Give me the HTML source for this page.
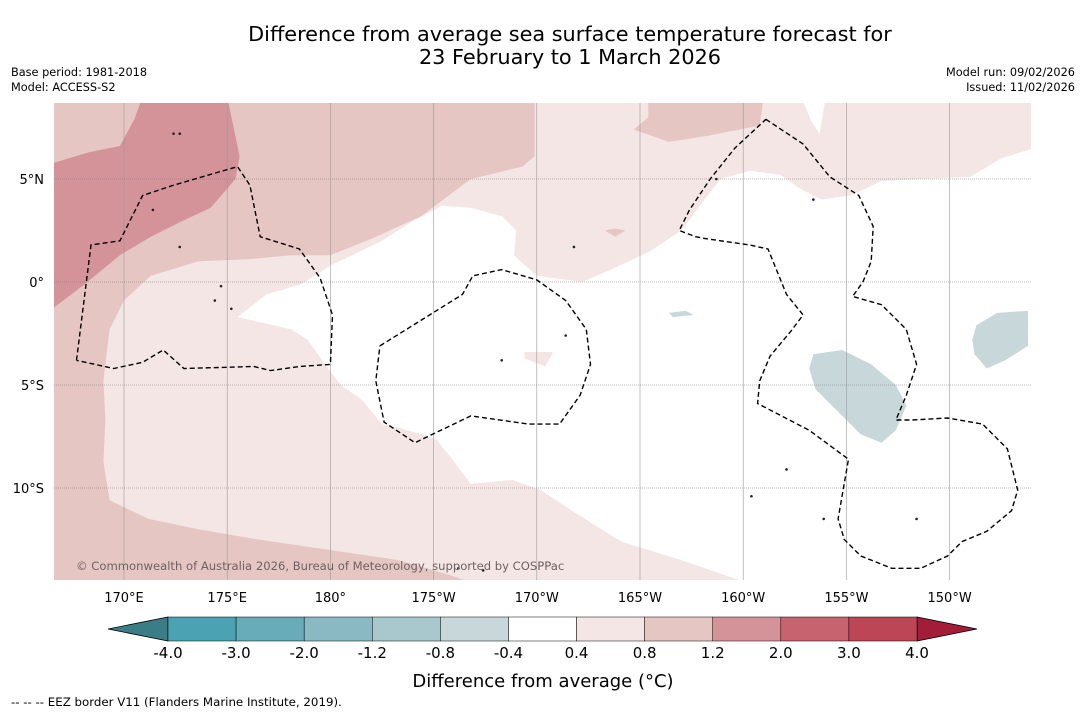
<!DOCTYPE html>
<html><head><meta charset="utf-8"><style>
body{margin:0;background:#fff;font-family:"Liberation Sans","DejaVu Sans",sans-serif;}
svg text{font-family:"DejaVu Sans","Liberation Sans",sans-serif;}
</style></head><body>
<svg id="c" width="1085" height="713" xmlns="http://www.w3.org/2000/svg">
<rect width="1085" height="713" fill="#fff"/>
<text x="570" y="41" text-anchor="middle" font-size="20.8">Difference from average sea surface temperature forecast for</text>
<text x="570" y="64" text-anchor="middle" font-size="20.8">23 February to 1 March 2026</text>
<text x="11" y="76" font-size="11.3">Base period: 1981-2018</text>
<text x="11" y="91" font-size="11.3">Model: ACCESS-S2</text>
<text x="1075" y="76" font-size="11.3" text-anchor="end">Model run: 09/02/2026</text>
<text x="1075" y="91" font-size="11.3" text-anchor="end">Issued: 11/02/2026</text>
<defs><clipPath id="mc"><rect x="54" y="103" width="977" height="477"/></clipPath></defs>
<g id="map" clip-path="url(#mc)"></g>
<g id="axes"></g>
<g id="cbar"></g>
<text x="543" y="687" text-anchor="middle" font-size="18">Difference from average (°C)</text>
<text x="11" y="706" font-size="11.8">--  --  -- EEZ border V11 (Flanders Marine Institute, 2019).</text>
</svg>
<script>
// Colorbar data
const levels=[-4.0,-3.0,-2.0,-1.2,-0.8,-0.4,0.4,0.8,1.2,2.0,3.0,4.0];
const levelColors=["#4aa2b2","#68abb9","#8ab8c3","#a9c8cd","#c8d8da","#ffffff","#f4e6e5","#e6c6c2","#d49399","#c6636f","#bd4656"];
const lonTicks=[170,175,180,185,190,195,200,205,210];
const lonLabels=["170°E","175°E","180°","175°W","170°W","165°W","160°W","155°W","150°W"];
const latTicks=[5,0,-5,-10];
const latLabels=["5°N","0°","5°S","10°S"];
// contour regions [lon(0-360), lat]
const bgColor="#f4e6e5";
const whiteZone=[[175.5,-1.7],[176.9,-0.6],[178.6,-0.1],[180,0.8],[182.5,2],[183.9,2.9],[185.4,3.7],[186.8,3.6],[188.3,3.2],[189,2.5],[188.9,1.3],[190,0.3],[192.2,0],[193.6,0.6],[195.5,1.5],[197,2.5],[197.9,3.7],[198.9,5],[200.3,5.4],[201.8,5.2],[202.8,4.5],[203.8,4],[205.2,4.2],[206.7,4.9],[208.6,5],[211,5.1],[212.5,6],[214.1,6.5],[214.1,-14.5],[199.9,-14.5],[197,-13.5],[194.1,-12.6],[191.7,-11.1],[190.2,-10.1],[188.8,-9.6],[186.8,-9.8],[185.9,-8.6],[185.1,-7.6],[183.4,-7.1],[182.5,-6.9],[181.5,-5.7],[180.5,-5],[179.6,-3.8],[178.9,-2.8],[178.1,-2.3]];
const midPink=[[166,9],[189.9,9],[189.9,6.1],[189.3,5.6],[186.8,5],[184.4,3.2],[182,2.1],[180,1.3],[178.1,1.3],[176,1.1],[173.6,1],[171.3,0.3],[170,-0.9],[169.3,-2.3],[169,-4.8],[169.1,-6.7],[169,-8.7],[169.3,-10.6],[171.2,-11.5],[173.6,-12],[176.5,-12.5],[179.9,-13],[183.3,-13.5],[185.7,-14.2],[186.6,-14.5],[166,-14.5]];
const midPink2=[[195.4,9],[201,9],[200.8,7.6],[198.3,7.1],[196.4,6.8],[194.7,7.4],[195.4,8]];
const darkPink=[[166,5.6],[168.3,6.3],[169.8,6.6],[170.5,7.9],[170.9,9],[175,9],[175.6,6.1],[175.4,5],[174.2,3.6],[172.7,2.9],[171.3,2.2],[169.8,1.3],[168.1,-0.1],[166,-1.7]];
const smallPink=[[[193.3,2.5],[193.8,2.6],[194.3,2.5],[193.8,2.2]],[[189.4,-3.4],[190.8,-3.4],[190.4,-4.1],[189.4,-3.7]]];
const whitePatch=[[202.8,9],[204,9],[203.7,7.2],[203.3,7.8]];
const bluePatches=[[[203.4,-3.5],[204.8,-3.3],[206.2,-4],[207.4,-5],[207.9,-6],[207.4,-7.2],[206.7,-7.8],[205.7,-7.4],[204.5,-6.2],[203.5,-5.2],[203.2,-4.2]],[[211.3,-2.1],[212.3,-1.5],[213.8,-1.4],[213.8,-3.1],[212.7,-3.8],[211.8,-4.2],[211.2,-3.5],[211.1,-2.8]],[[196.4,-1.5],[197.2,-1.4],[197.6,-1.6],[196.6,-1.7]]];
const eez=[
[[167.7,-3.8],[168.4,1.8],[169.8,2],[170.9,4.2],[172.4,4.7],[175.5,5.6],[176.1,4.7],[176.6,2.2],[178.5,1.6],[179.5,0.2],[180.1,-1.6],[180,-4],[178.5,-4.1],[177.1,-4.3],[176.3,-4.1],[172.9,-4.2],[171.9,-3.3],[170.9,-3.9],[169.5,-4.2],[167.7,-3.8]],
[[182.4,-3.1],[184.8,-1.6],[186.4,-0.6],[186.9,0.3],[188.3,0.6],[190,0.1],[191.4,-0.9],[192.4,-2.3],[192.6,-4],[192.1,-5.5],[191.1,-6.9],[189.6,-6.9],[186.8,-6.5],[184.1,-7.8],[182.6,-6.8],[182.2,-4.8],[182.4,-3.1]],
[[201.1,7.9],[202.9,6.7],[204.2,5.1],[205.6,4.2],[206.3,2.7],[206.2,1],[205.8,0],[205.3,-0.7],[206.7,-1.1],[207.9,-2.3],[208.4,-4],[207.9,-5.5],[207.4,-6.7],[208.2,-6.7],[209.9,-6.6],[211.6,-6.9],[212.8,-8.1],[213.3,-10.1],[213,-11.1],[211.8,-12.1],[210.6,-12.6],[209.9,-13.3],[208.6,-13.9],[207.2,-13.9],[205.7,-13.3],[204.9,-12.5],[204.6,-11.5],[205.1,-8.6],[203.2,-7.2],[200.7,-5.9],[200.8,-4.8],[201.3,-3.6],[202.3,-2.4],[202.9,-1.6],[202.1,-0.6],[201.2,1.6],[200.3,1.8],[198.2,2.1],[197.7,2.2],[196.9,2.5],[197.4,3.5],[198.4,5],[199.6,6.5],[201.1,7.9]]];
const islands=[[174.4,-0.9],[175.2,-1.3],[174.7,-0.2],[171.4,3.5],[172.7,1.7],[191.4,-2.6],[188.3,-3.8],[203.4,4],[203.9,-11.5],[208.4,-11.5],[186.2,-13.9],[187.4,-14],[172.7,7.2],[172.4,7.2],[202.1,-9.1],[191.8,1.7],[198.7,5],[200.4,-10.4]];

const X=lon=>124+(lon-170)*20.64, Y=lat=>282-lat*20.6;
const NS="http://www.w3.org/2000/svg";
function mk(parent,tag,attrs){const e=document.createElementNS(NS,tag);for(const k in attrs)e.setAttribute(k,attrs[k]);parent.appendChild(e);return e;}
const pts=a=>a.map(p=>X(p[0]).toFixed(1)+","+Y(p[1]).toFixed(1)).join(" ");
const map=document.getElementById("map");
let e=mk(map,"rect",{x:54,y:103,width:977,height:477,fill:bgColor});


e=mk(map,"polygon",{points:pts(midPink),fill:"#e6c6c2"});


e=mk(map,"polygon",{points:pts(midPink2),fill:"#e6c6c2"});


e=mk(map,"polygon",{points:pts(darkPink),fill:"#d49399"});


e=mk(map,"polygon",{points:pts(whiteZone),fill:"#ffffff"});


e=mk(map,"polygon",{points:pts(whitePatch),fill:"#fff"});


smallPink.forEach(p=>{const s=mk(map,"polygon",{points:pts(p),fill:p===smallPink[0]?"#e6c6c2":bgColor});

});
bluePatches.forEach(p=>{const s=mk(map,"polygon",{points:pts(p),fill:"#c8d8da"});

});
lonTicks.forEach(l=>{const g=mk(map,"line",{x1:X(l),x2:X(l),y1:103,y2:580,stroke:"#999",'stroke-width':0.6});

});
latTicks.forEach(l=>{const g=mk(map,"line",{x1:54,x2:1031,y1:Y(l),y2:Y(l),stroke:"#777",'stroke-width':0.6,'stroke-dasharray':'1,1'});

});
eez.forEach(p=>{const s=mk(map,"polyline",{points:pts(p),fill:"none",stroke:"#000",'stroke-width':1.4,'stroke-dasharray':'5,3'});

});
islands.forEach(p=>{const s=mk(map,"circle",{cx:X(p[0]),cy:Y(p[1]),r:1.3,fill:"#222"});

});
e=mk(map,"text",{x:76,y:570,'font-size':11.6,fill:"#6d6363"});e.textContent="© Commonwealth of Australia 2026, Bureau of Meteorology, supported by COSPPac";


const ax=document.getElementById("axes");
lonTicks.forEach((l,i)=>{const t=mk(ax,"text",{x:X(l),y:602,'font-size':13,'text-anchor':'middle'});t.textContent=lonLabels[i];

});
latTicks.forEach((l,i)=>{const t=mk(ax,"text",{x:44,y:Y(l)+5,'font-size':13,'text-anchor':'end'});t.textContent=latLabels[i];

});
const cb=document.getElementById("cbar");
const cx0=168,cw=(917-168)/(levels.length-1),cy=617,ch=24;
const CX=i=>cx0+i*cw;
e=mk(cb,"polygon",{points:`108,${cy+ch/2} ${CX(0)},${cy} ${CX(0)},${cy+ch}`,fill:"#3b7d86",stroke:"#000",'stroke-width':0.8});


e=mk(cb,"polygon",{points:`977,${cy+ch/2} ${CX(levels.length-1)},${cy} ${CX(levels.length-1)},${cy+ch}`,fill:"#a31c38",stroke:"#000",'stroke-width':0.8});


levelColors.forEach((c,i)=>{const r=mk(cb,"rect",{x:CX(i),y:cy,width:cw,height:ch,fill:c,stroke:"#000",'stroke-width':0.5});

});
levels.forEach((v,i)=>{const t=mk(cb,"text",{x:CX(i),y:658,'font-size':15,'text-anchor':'middle'});t.textContent=v.toFixed(1);

});
</script>
</body></html>
